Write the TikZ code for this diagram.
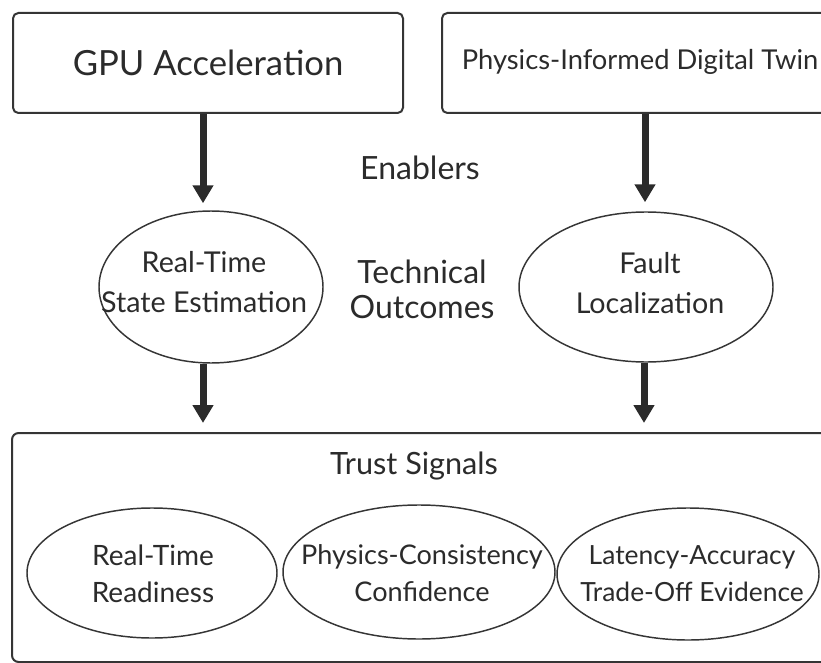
\documentclass[tikz,border=0pt]{standalone}
\usepackage{fontspec}
\setmainfont{Lato}
\usetikzlibrary{shapes.geometric,arrows.meta}
\definecolor{ink}{HTML}{2B2B2B}
\definecolor{edge}{HTML}{353535}
\begin{document}
\begin{tikzpicture}[x=0.75pt,y=-0.75pt,
  every node/.style={text=ink, align=center, inner sep=0pt},
  card/.style={draw=edge, line width=1.5pt, rounded corners=4pt, fill=white},
  oval/.style={ellipse, draw=edge, line width=1.1pt, fill=white},
  flow/.style={draw=ink, line width=5.25pt, -{Triangle[width=15pt,length=13.5pt]}},
  bigtxt/.style={font=\fontsize{24}{26.25}\selectfont},
  uptxt/.style={font=\fontsize{21.5}{30}\selectfont},
  lowtxt/.style={font=\fontsize{21}{27.75}\selectfont}]
\useasboundingbox (0,0) rectangle (821,663);

% enabler boxes
\node[card, font=\fontsize{26}{30}\selectfont, minimum width=292.5pt, minimum height=75pt] (gpu) at (208,63) {GPU Acceleration};
\node[card, minimum width=298.5pt, minimum height=75pt] (pidt) at (641,63) {};
\node[font=\fontsize{20.5}{24}\selectfont] (pidtt) at (640,62) {Physics-Informed Digital Twin};
\node[bigtxt] (enab) at (420,168) {Enablers};

% technical outcomes
\node[oval, minimum width=168pt, minimum height=114pt] (rtse) at (211,287) {};
\node[uptxt] (rtset) at (204,282) {Real-Time\\State Estimation};
\node[oval, minimum width=190.5pt, minimum height=112.5pt] (fault) at (646,287) {};
\node[uptxt] (faultt) at (650,283) {Fault\\Localization};
\node[bigtxt] (tech) at (422,289) {Technical\\Outcomes};

% trust signals panel
\node[card, rounded corners=5pt, minimum width=628.5pt, minimum height=171.75pt] (trust) at (431,547.5) {};
\node[font=\fontsize{23}{26}\selectfont] (tstitle) at (414,466) {Trust Signals};
\node[oval, minimum width=187.5pt, minimum height=97.5pt] (rtr) at (152,573) {};
\node[lowtxt] (rtrt) at (153,574) {Real-Time\\Readiness};
\node[oval, minimum width=204pt, minimum height=100.5pt] (pcc) at (419,572) {};
\node[lowtxt, font=\fontsize{20.3}{27.75}\selectfont] (pcct) at (422,573) {Physics-Consistency\\Confidence};
\node[oval, minimum width=196.5pt, minimum height=99pt] (lat) at (688,574) {};
\node[lowtxt, font=\fontsize{19.8}{27.75}\selectfont] (latt) at (692,574) {Latency-Accuracy\\Trade-Off Evidence};

% connectors
\draw[flow, shorten >=5.25pt] ([xshift=-3.75pt]gpu.south) -- ([xshift=-3.75pt]gpu.south |- rtse.north);
\draw[flow, shorten >=6.75pt] ([xshift=3pt]pidt.south) -- ([xshift=3pt]pidt.south |- fault.north);
\draw[flow, shorten >=6.75pt] ([xshift=-6pt]rtse.south) -- ([xshift=-6pt]rtse.south |- trust.north);
\draw[flow, shorten >=6.75pt] ([xshift=-1.5pt]fault.south) -- ([xshift=-1.5pt]fault.south |- trust.north);
\end{tikzpicture}
\end{document}
